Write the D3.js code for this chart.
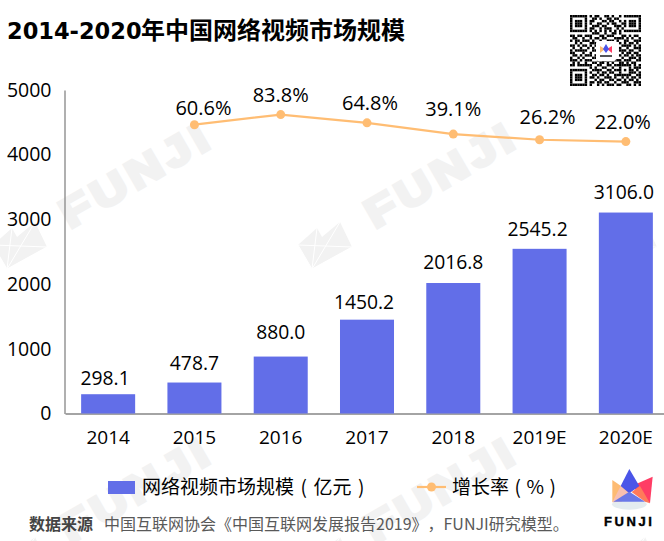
<!DOCTYPE html>
<html>
<head>
<meta charset="utf-8">
<script src="https://cdn.jsdelivr.net/npm/d3@7/dist/d3.min.js"></script>
<style>
  html, body { margin: 0; padding: 0; background: #fff; }
  svg { display: block; }
  text { font-family: "Open Sans", "Noto Sans CJK SC", sans-serif; fill: #000; text-spacing-trim: space-all; }
</style>
</head>
<body>
<svg id="chart"></svg>
<script>
const years = ['2014', '2015', '2016', '2017', '2018', '2019E', '2020E'];
const marketSize = [298.1, 478.7, 880.0, 1450.2, 2016.8, 2545.2, 3106.0];
const growthYears = ['2015', '2016', '2017', '2018', '2019E', '2020E'];
const growthRate = [60.6, 83.8, 64.8, 39.1, 26.2, 22.0];
const sizeTicks = [0, 1000, 2000, 3000, 4000, 5000];

// hand placed label offsets, the original labels are not centred on their marks
const sizeLabelNudge = [[-3, -17], [0, -20], [0, -25], [-3, -18], [0, -22], [-2, -20], [-2, -21]];
const rateLabelNudge = [[9, -17], [0, -20], [3, -20], [0, -26], [8, -23], [-3, -20]];

const qrRows = [
  '11111110101100110100101111111',
  '10000010011010011011000000001',
  '10111010110001101100101011101',
  '10111010100110010110011011101',
  '10111010011101100011101011101',
  '10000010110010111001010000001',
  '11111110101010101010101111111',
  '00000000011100100110100000000',
  '11011011100011011100011010110',
  '01100100101101100011110101001',
  '10110111010010011101001100111',
  '00101000111000000000101011010',
  '11010110101000000000011110101',
  '01001001010000000000100100111',
  '10111110011000000000111011001',
  '11000100100000000000010110110',
  '01101011101000000000101101011',
  '10010100011000000000010011101',
  '11101011100101101011101110011',
  '01010010011011010100110101100',
  '11011111100110011011111110101',
  '00000000101001100100100010111',
  '11111110011110011011101011010',
  '10000010100101101100100011101',
  '10111010011011010011111110011',
  '10111010110100111010010101101',
  '10111010001011001101101011010',
  '10000010110110110010011100111',
  '11111110100101011101100110101'
];

const width = 664;
const height = 541;
const barColor = '#626ee8';
const lineColor = '#ffbd73';
const axisColor = '#868686';
const markColor = '#f2f2f2';

const svg = d3.select('#chart').attr('width', width).attr('height', height);

// watermark tiles
const marks = svg.append('g');
[[0, 0], [305, 0], [610, 0], [0, 315], [305, 315], [610, 315]].forEach(([dx, dy]) => {
  const tile = marks.append('g').attr('transform', `translate(${dx},${dy})`);
  tile.append('path')
    .attr('d', 'M-7,245 L12,228 L17,237 L35,222 L47,247 L7,269 Z')
    .attr('fill', markColor);
  tile.append('path')
    .attr('d', 'M7,269 L-7,245 M7,269 L12,228 M7,269 L35,222 M7,269 L47,247 M-7,245 L47,247')
    .attr('stroke', '#fff').attr('fill', 'none').attr('stroke-width', 1);
  // the logo type is much wider and heavier than any installed bold
  tile.append('text')
    .attr('transform', 'translate(70,229) rotate(-30) scale(1.2,1)')
    .attr('font-size', 41)
    .attr('letter-spacing', 4.5)
    .attr('stroke', markColor)
    .attr('stroke-width', 3.5)
    .style('font-family', '"Liberation Sans"')
    .style('font-weight', 700)
    .style('fill', markColor)
    .text('FUNJI');
});

// title
svg.append('text')
  .attr('x', 7).attr('y', 39)
  .attr('font-size', 22.5)
  .style('font-family', '"DejaVu Sans"')
  .style('font-weight', 700)
  .text('2014-2020');
svg.append('text')
  .attr('x', 141).attr('y', 39)
  .attr('font-size', 24)
  .style('font-family', '"Noto Sans CJK SC"')
  .style('font-weight', 700)
  .text('年中国网络视频市场规模');

// qr code
const qrScale = d3.scaleBand().domain(d3.range(qrRows.length)).range([570, 641]);
const qrY = d3.scaleBand().domain(d3.range(qrRows.length)).range([15, 86]);
const qrCells = [];
qrRows.forEach((row, r) => row.split('').forEach((c, i) => { if (c === '1') qrCells.push([i, r]); }));
svg.append('g').selectAll('rect').data(qrCells).join('rect')
  .attr('x', d => qrScale(d[0]))
  .attr('y', d => qrY(d[1]))
  .attr('width', qrScale.bandwidth())
  .attr('height', qrY.bandwidth())
  .attr('fill', '#000');
const qrLogo = svg.append('g').attr('transform', 'translate(596,41)');
qrLogo.append('rect').attr('width', 20).attr('height', 20).attr('rx', 2).attr('fill', '#fff');
qrLogo.append('path').attr('d', 'M4,5 L9,8 L4,12 Z').attr('fill', '#fdbb73');
qrLogo.append('path').attr('d', 'M16,5 L11,8 L16,12 Z').attr('fill', '#ff3d65');
qrLogo.append('path').attr('d', 'M10,3 L13,8 L10,12 L7,8 Z').attr('fill', '#4a55e8');
qrLogo.append('rect').attr('x', 4).attr('y', 14).attr('width', 12).attr('height', 2).attr('fill', '#555');

// scales
const x = d3.scaleBand().domain(years).range([65, 669]).paddingInner(0.374).paddingOuter(0.187);
const y = d3.scaleLinear().domain([0, 5000]).range([413.5, 90]);
const yRate = d3.scaleLinear().domain([-600, 140]).range([413.5, 90]);

// axes
const gLeft = svg.append('g').attr('transform', 'translate(64.5,0)')
  .call(d3.axisLeft(y).tickValues(sizeTicks).tickFormat(d3.format('d')).tickSize(0).tickPadding(13));
gLeft.select('.domain').attr('stroke', axisColor).attr('stroke-width', 1.3);
gLeft.selectAll('text').attr('font-size', 19.5).style('font-family', '"Open Sans"');

const gBottom = svg.append('g').attr('transform', 'translate(0,413.5)')
  .call(d3.axisBottom(x).tickSize(0).tickPadding(17));
gBottom.select('.domain').attr('stroke', axisColor).attr('stroke-width', 1.3);
gBottom.selectAll('text').attr('font-size', 19).style('font-family', '"Open Sans"');

// bars
svg.append('g').selectAll('rect').data(marketSize).join('rect')
  .attr('x', (d, i) => x(years[i]))
  .attr('y', d => y(d))
  .attr('width', x.bandwidth())
  .attr('height', d => y(0) - y(d))
  .attr('fill', barColor);

svg.append('g').selectAll('text').data(marketSize).join('text')
  .attr('x', (d, i) => x(years[i]) + x.bandwidth() / 2 + sizeLabelNudge[i][0])
  .attr('y', (d, i) => y(d) + sizeLabelNudge[i][1])
  .attr('text-anchor', 'middle')
  .attr('dominant-baseline', 'central')
  .attr('font-size', 19.3)
  .text(d => d.toFixed(1));

// growth line
const cx = name => x(name) + x.bandwidth() / 2;
const line = d3.line()
  .x((d, i) => cx(growthYears[i]))
  .y(d => yRate(d));
svg.append('path').datum(growthRate)
  .attr('d', line)
  .attr('fill', 'none')
  .attr('stroke', lineColor)
  .attr('stroke-width', 2.2);
svg.append('g').selectAll('circle').data(growthRate).join('circle')
  .attr('cx', (d, i) => cx(growthYears[i]))
  .attr('cy', d => yRate(d))
  .attr('r', 4.5)
  .attr('fill', lineColor);
svg.append('g').selectAll('text').data(growthRate).join('text')
  .attr('x', (d, i) => cx(growthYears[i]) + rateLabelNudge[i][0])
  .attr('y', (d, i) => yRate(d) + rateLabelNudge[i][1])
  .attr('text-anchor', 'middle')
  .attr('dominant-baseline', 'central')
  .attr('font-size', 20)
  .text(d => d.toFixed(1) + '%');

// legend
svg.append('rect').attr('x', 108).attr('y', 481).attr('width', 27).attr('height', 13).attr('fill', barColor);
svg.append('text').attr('x', 142).attr('y', 494).attr('font-size', 19).attr('word-spacing', 2.3)
  .style('font-family', '"Noto Sans CJK SC"').text('网络视频市场规模 ( 亿元 )');
svg.append('line').attr('x1', 417).attr('x2', 446).attr('y1', 487).attr('y2', 487)
  .attr('stroke', lineColor).attr('stroke-width', 2.2);
svg.append('circle').attr('cx', 431.5).attr('cy', 487).attr('r', 4.5).attr('fill', lineColor);
svg.append('text').attr('x', 452).attr('y', 494).attr('font-size', 19).attr('word-spacing', 1.3)
  .style('font-family', '"Noto Sans CJK SC"').text('增长率 ( % )');

// source line
svg.append('text').attr('x', 29).attr('y', 530).attr('font-size', 16)
  .style('font-family', '"Noto Sans CJK SC"').style('font-weight', 700).style('fill', '#444')
  .text('数据来源');
svg.append('text').attr('x', 104).attr('y', 530).attr('font-size', 16)
  .style('font-family', '"Noto Sans CJK SC"').style('fill', '#595959')
  .text('中国互联网协会《中国互联网发展报告2019》，FUNJI研究模型。');

// funji logo
const logo = svg.append('g').attr('transform', 'translate(590,460) scale(0.3333)');
logo.append('ellipse').attr('cx', 118).attr('cy', 133).attr('rx', 52).attr('ry', 16).attr('fill', '#e4ecf0');
logo.append('path').attr('d', 'M67,60 L118,95 L67,127 Z').attr('fill', '#fdbb73');
logo.append('path').attr('d', 'M67,127 L92,78 L118,98 L95,125 Z').attr('fill', '#f8c0b0');
logo.append('path').attr('d', 'M188,50 L180,130 L125,78 Z').attr('fill', '#ff3d65');
logo.append('path').attr('d', 'M118,27 L148,78 L118,100 L92,78 Z').attr('fill', '#4a55e8');
logo.append('path').attr('d', 'M150,78 L125,96 L165,125 L180,130 Z').attr('fill', '#ff7a5a');
logo.append('path').attr('d', 'M118,95 L165,125 L70,125 Z').attr('fill', '#6a78e8');
svg.append('text').attr('x', 604).attr('y', 526).attr('font-size', 13)
  .attr('letter-spacing', 2.6)
  .attr('stroke', '#000').attr('stroke-width', 0.4)
  .style('font-family', '"Liberation Sans"').style('font-weight', 700)
  .text('FUNJI');
</script>
</body>
</html>
